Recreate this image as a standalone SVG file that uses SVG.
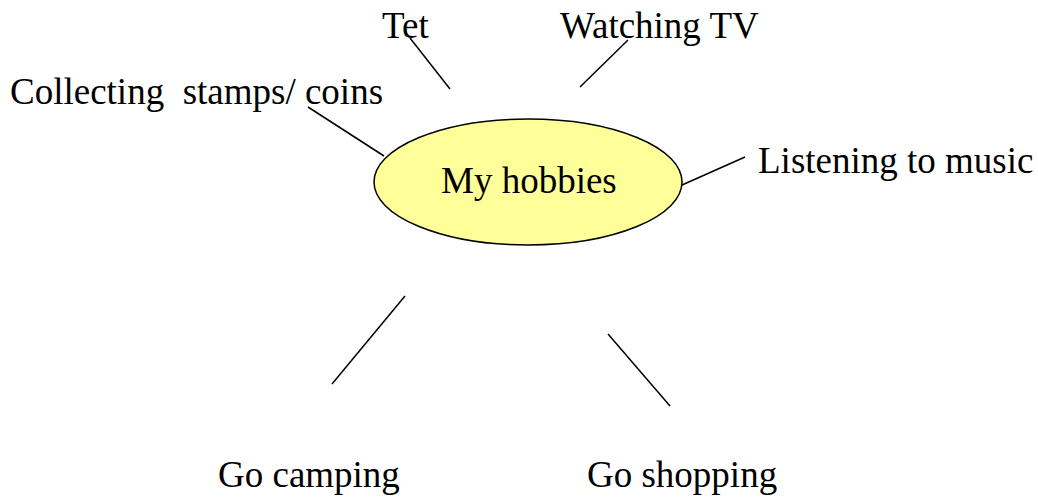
<svg xmlns="http://www.w3.org/2000/svg" width="1038" height="497" viewBox="0 0 1038 497">
<style>
text{font-family:"Liberation Serif","Times New Roman",serif;font-size:37px;fill:#000}
.c line{stroke:#000;stroke-width:1.5}
</style>
<rect width="1038" height="497" fill="#fff"/>
<g class="c" id="connectors">
<line x1="410" y1="38" x2="450" y2="89"/>
<line x1="628" y1="40" x2="580" y2="87"/>
<line x1="308" y1="107" x2="384" y2="156"/>
<line x1="745" y1="157" x2="673" y2="189"/>
<line x1="405" y1="296" x2="332" y2="384"/>
<line x1="608" y1="334" x2="670" y2="406"/>
</g>
<g id="center">
<ellipse cx="528" cy="182" rx="154" ry="63" fill="#ffff99" stroke="#000" stroke-width="1.5"/>
<text x="441" y="193">My hobbies</text>
</g>
<g id="tet"><text x="382" y="38">Tet</text></g>
<g id="tv"><text x="560" y="38">Watching TV</text></g>
<g id="collect"><text x="10" y="104" xml:space="preserve">Collecting  stamps/ coins</text></g>
<g id="music"><text x="758" y="173">Listening to music</text></g>
<g id="camping"><text x="218" y="487">Go camping</text></g>
<g id="shopping"><text x="587" y="487">Go shopping</text></g>
</svg>
